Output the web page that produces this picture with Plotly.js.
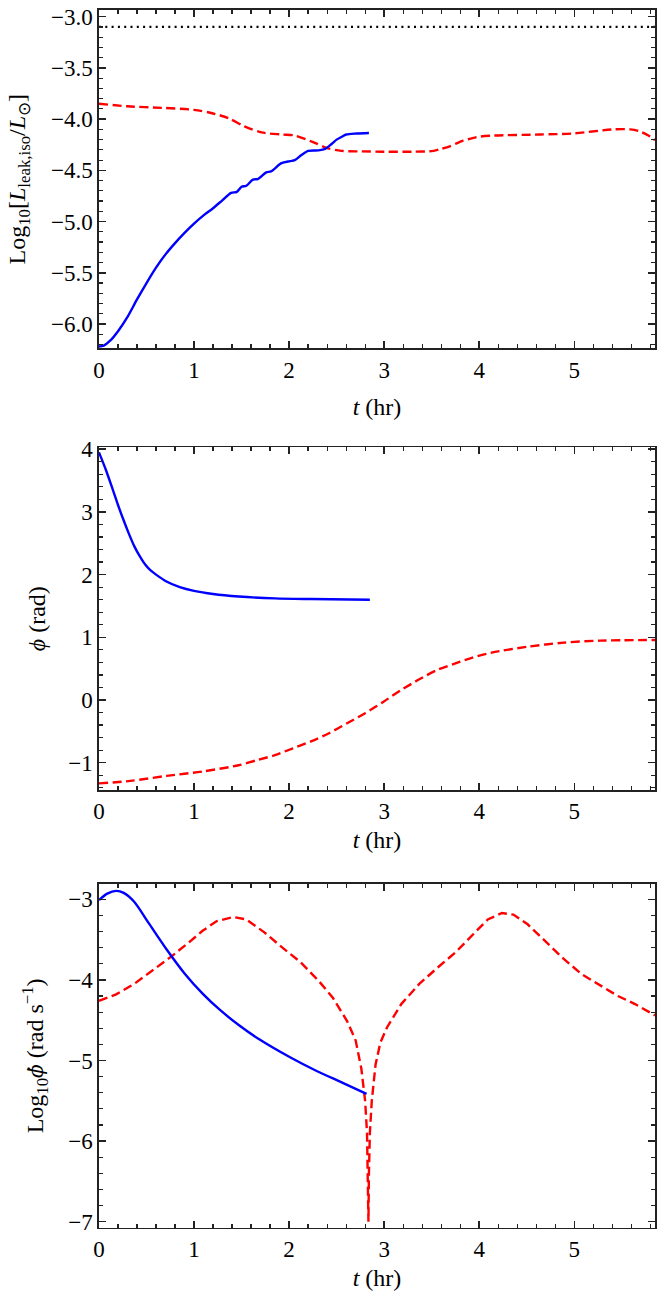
<!DOCTYPE html>
<html>
<head>
<meta charset="utf-8">
<script src="https://cdn.plot.ly/plotly-3.0.1.min.js"></script>
<style>html,body{margin:0;padding:0;background:#fff;}#chart{width:664px;height:1306px;}</style>
</head>
<body>
<div id="chart"></div>
<script>
// ---------- Panel 1: Log10[L_leak,iso / L_sun] ----------
const leakBlueT = [0, 0.05, 0.12, 0.2, 0.3, 0.4, 0.5, 0.6, 0.7, 0.8, 0.9, 1.0, 1.1, 1.2, 1.3, 1.39, 1.45, 1.5, 1.55, 1.62, 1.67, 1.76, 1.81, 1.92, 2.01, 2.06, 2.13, 2.2, 2.31, 2.38, 2.45, 2.5, 2.55, 2.6, 2.71, 2.84];
const leakBlue  = [-6.22, -6.21, -6.16, -6.07, -5.93, -5.76, -5.6, -5.45, -5.32, -5.21, -5.11, -5.02, -4.94, -4.87, -4.79, -4.72, -4.71, -4.66, -4.65, -4.59, -4.585, -4.52, -4.51, -4.43, -4.41, -4.40, -4.35, -4.31, -4.305, -4.29, -4.24, -4.20, -4.175, -4.15, -4.14, -4.135];
const leakRedT = [0, 0.3, 0.66, 1.0, 1.18, 1.36, 1.53, 1.71, 1.92, 2.06, 2.24, 2.41, 2.55, 2.76, 3.0, 3.3, 3.52, 3.6, 3.69, 3.83, 3.93, 4.01, 4.15, 4.64, 4.99, 5.41, 5.59, 5.69, 5.78, 5.85];
const leakRed  = [-3.85, -3.875, -3.89, -3.91, -3.94, -3.99, -4.07, -4.13, -4.15, -4.16, -4.22, -4.285, -4.31, -4.315, -4.318, -4.318, -4.31, -4.29, -4.265, -4.21, -4.185, -4.17, -4.16, -4.15, -4.14, -4.10, -4.10, -4.12, -4.16, -4.205];
const refLevelT = [0, 5.85];
const refLevel = [-3.10, -3.10];

// ---------- Panel 2: phi (rad) ----------
const phiBlueT = [0, 0.07, 0.144, 0.2, 0.258, 0.315, 0.372, 0.43, 0.486, 0.54, 0.60, 0.71, 0.85, 1.0, 1.2, 1.47, 1.85, 2.23, 2.85];
const phiBlue  = [3.95, 3.68, 3.36, 3.11, 2.87, 2.65, 2.45, 2.29, 2.16, 2.07, 2.00, 1.89, 1.80, 1.74, 1.69, 1.65, 1.62, 1.61, 1.60];
const phiRedT = [0, 0.33, 0.71, 1.09, 1.47, 1.66, 1.85, 2.04, 2.23, 2.42, 2.61, 2.80, 2.99, 3.18, 3.37, 3.56, 3.75, 3.94, 4.13, 4.51, 4.89, 5.27, 5.85];
const phiRed  = [-1.33, -1.29, -1.21, -1.14, -1.04, -0.96, -0.88, -0.77, -0.66, -0.53, -0.37, -0.21, -0.03, 0.16, 0.33, 0.48, 0.585, 0.68, 0.755, 0.85, 0.915, 0.947, 0.957];

// ---------- Panel 3: Log10 phi-dot (rad s^-1) ----------
const dphiBlueT = [0, 0.087, 0.18, 0.26, 0.37, 0.52, 0.71, 0.90, 1.09, 1.27, 1.47, 1.69, 2.01, 2.29, 2.57, 2.815];
const dphiBlue  = [-3.01, -2.93, -2.895, -2.92, -3.03, -3.29, -3.62, -3.92, -4.17, -4.37, -4.56, -4.74, -4.96, -5.13, -5.28, -5.415];
const dphiRedT = [0, 0.18, 0.37, 0.56, 0.75, 0.94, 1.09, 1.24, 1.415, 1.55, 1.74, 1.93, 2.12, 2.31, 2.46, 2.61, 2.70, 2.76, 2.80, 2.82, 2.83, 2.835, 2.84, 2.85, 2.87, 2.91, 2.96, 3.03, 3.18, 3.37, 3.56, 3.75, 3.94, 4.09, 4.24, 4.36, 4.51, 4.70, 4.89, 5.08, 5.27, 5.46, 5.64, 5.85];
const dphiRed  = [-4.26, -4.18, -4.05, -3.89, -3.72, -3.54, -3.39, -3.27, -3.22, -3.25, -3.41, -3.60, -3.78, -4.01, -4.22, -4.51, -4.75, -5.1, -5.5, -5.9, -6.4, -7.0, -6.4, -5.9, -5.5, -5.05, -4.78, -4.59, -4.30, -4.05, -3.85, -3.66, -3.43, -3.25, -3.17, -3.19, -3.31, -3.52, -3.74, -3.93, -4.07, -4.20, -4.30, -4.44];

const BLUE = '#0000ff', RED = '#ff0000';
const blueLine = {color: BLUE, width: 2.4, shape: 'spline', smoothing: 0.8};
const redLine = {color: RED, width: 2.4, dash: '9px,4.5px', shape: 'spline', smoothing: 0.8};

const traces = [
  {x: refLevelT, y: refLevel, xaxis: 'x', yaxis: 'y', mode: 'lines', line: {color: '#000', width: 2.4, dash: '2px,4.3px'}},
  {x: leakRedT, y: leakRed, xaxis: 'x', yaxis: 'y', mode: 'lines', line: redLine},
  {x: leakBlueT, y: leakBlue, xaxis: 'x', yaxis: 'y', mode: 'lines', line: blueLine},
  {x: phiRedT, y: phiRed, xaxis: 'x2', yaxis: 'y2', mode: 'lines', line: redLine},
  {x: phiBlueT, y: phiBlue, xaxis: 'x2', yaxis: 'y2', mode: 'lines', line: blueLine},
  {x: dphiRedT, y: dphiRed, xaxis: 'x3', yaxis: 'y3', mode: 'lines', line: Object.assign({}, redLine, {shape: 'linear'})},
  {x: dphiBlueT, y: dphiBlue, xaxis: 'x3', yaxis: 'y3', mode: 'lines', line: blueLine}
];

const FONT = "Liberation Serif";
const TICKSIZE = 23, TITLESIZE = 24;
function common() {
  return {
    showline: true, linecolor: '#222', linewidth: 1.6, mirror: 'allticks',
    ticks: 'inside', ticklen: 7, tickwidth: 1.4, tickcolor: '#222',
    showgrid: false, zeroline: false,
    tickfont: {family: FONT, size: TICKSIZE, color: '#000000'}
  };
}
function xax(anchor, standoff) {
  return Object.assign(common(), {
    domain: [0.1491, 0.98645], anchor: anchor, range: [0, 5.85],
    tickmode: 'linear', tick0: 0, dtick: 1,
    minor: {dtick: 0.2, ticks: 'inside', ticklen: 4, tickwidth: 1.2, tickcolor: '#222', showgrid: false},
    title: {text: '<i>t</i> (hr)', font: {family: FONT, size: TITLESIZE, color: '#000'}, standoff: standoff}
  });
}
function yax(anchor, dom, range, dtick, minor, fmt, title, standoff) {
  return Object.assign(common(), {
    domain: dom, anchor: anchor, range: range,
    tickmode: 'linear', tick0: 0, dtick: dtick, tickformat: fmt,
    minor: {dtick: minor, ticks: 'inside', ticklen: 4, tickwidth: 1.2, tickcolor: '#222', showgrid: false},
    title: {text: title, font: {family: FONT, size: TITLESIZE, color: '#000'}, standoff: standoff}
  });
}

const layout = {
  width: 664, height: 1306,
  margin: {l: 0, r: 0, t: 0, b: 0},
  paper_bgcolor: '#fff', plot_bgcolor: '#fff',
  showlegend: false,
  font: {family: FONT, size: TICKSIZE, color: '#000'},
  xaxis: xax('y', 16),
  yaxis: yax('x', [0.7333, 0.99234], [-6.237, -2.935], 0.5, 0.1, '.1f',
    'Log<sub>10</sub>[<i>L</i><sub>leak,iso</sub>/<i>L</i><sub>⊙</sub>]', 18),
  xaxis2: xax('y2', 8),
  yaxis2: yax('x2', [0.3951, 0.6575], [-1.435, 4.03], 1, 0.2, 'd',
    '<i>ϕ</i> (rad)', 16),
  xaxis3: xax('y3', 8),
  yaxis3: yax('x3', [0.05995, 0.32312], [-7.075, -2.81], 1, 0.2, 'd',
    'Log<sub>10</sub><span style="font-family:DejaVu Serif;font-style:italic;font-size:20px">ϕ̇</span> (rad s<sup>−1</sup>)', 18)
};

Plotly.newPlot('chart', traces, layout, {staticPlot: true, displayModeBar: false});
</script>
</body>
</html>
